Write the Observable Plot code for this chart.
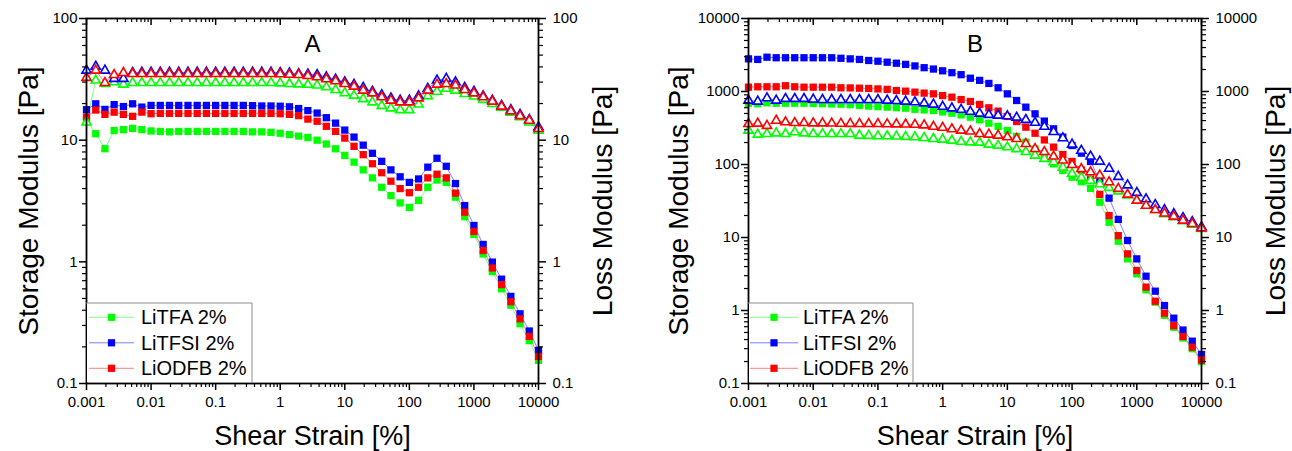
<!DOCTYPE html>
<html>
<head>
<meta charset="utf-8">
<script src="https://cdn.jsdelivr.net/npm/d3@7"></script>
<script src="https://cdn.jsdelivr.net/npm/@observablehq/plot@0.6"></script>
<style>
  html, body { margin: 0; padding: 0; background: #fff; }
  #wrap { display: flex; width: 1292px; height: 451px; overflow: hidden; }
  #wrap svg { display: block; }
</style>
</head>
<body>
<div id="wrap"></div>
<script>
// ---------- DATA ----------
const seriesNames = ["LiTFA 2%", "LiTFSI 2%", "LiODFB 2%"];
const seriesColors = ["#00ff00", "#0000ff", "#ff0000"];

const xMajor = [0.001, 0.01, 0.1, 1, 10, 100, 1000, 10000];
const xMajorLabels = ["0.001", "0.01", "0.1", "1", "10", "100", "1000", "10000"];
const yMajorA = [0.1, 1, 10, 100];
const yMajorLabelsA = ["0.1", "1", "10", "100"];
const yMajorB = [0.1, 1, 10, 100, 1000, 10000];
const yMajorLabelsB = ["0.1", "1", "10", "100", "1000", "10000"];

const xTitle = "Shear Strain [%]";
const yLeftTitle = "Storage Modulus [Pa]";
const yRightTitle = "Loss Modulus [Pa]";

// shear strain [%]
const strain = [0.001,0.00139,0.00193,0.00268,0.00373,0.00518,0.0072,
  0.01,0.0139,0.0193,0.0268,0.0373,0.0518,0.072,
  0.1,0.139,0.193,0.268,0.373,0.518,0.72,
  1,1.39,1.93,2.68,3.73,5.18,7.2,
  10,13.9,19.3,26.8,37.3,51.8,72,
  100,139,193,268,373,518,720,
  1000,1390,1930,2680,3730,5180,7200,10000];

// Panel A - storage modulus (filled squares)
const aStorageLiTFA = [14.5,11.3,8.5,12.0,12.2,12.5,12.2,
  11.9,11.8,11.7,11.8,11.8,11.8,11.8,
  11.8,11.8,11.8,11.8,11.7,11.7,11.6,
  11.4,11.1,10.8,10.5,10.0,9.3,8.5,
  7.5,6.6,5.7,4.9,4.1,3.5,3.05,
  2.8,3.2,4.1,4.7,4.5,3.4,2.35,
  1.68,1.16,0.83,0.6,0.44,0.31,0.225,0.155];
const aStorageLiTFSI = [17.8,19.9,17.9,19.6,18.9,19.9,18.7,
  19.3,19.3,19.3,19.3,19.3,19.3,19.3,
  19.3,19.3,19.3,19.3,19.2,19.1,19.1,
  19.0,18.8,18.2,17.5,16.7,15.3,13.8,
  12.1,10.6,9.1,7.8,6.7,5.7,5.0,
  4.5,4.8,6.0,7.1,6.1,4.4,2.9,
  1.99,1.39,0.995,0.72,0.52,0.374,0.27,0.187];
const aStorageLiODFB = [15.5,17.7,16.3,17.0,16.3,15.7,17.0,
  16.5,16.6,16.6,16.6,16.6,16.6,16.6,
  16.6,16.6,16.6,16.6,16.6,16.6,16.6,
  16.5,16.3,15.9,14.9,14.3,13.0,11.8,
  10.4,8.9,7.6,6.4,5.4,4.6,4.0,
  3.7,4.1,4.9,5.25,4.9,3.67,2.56,
  1.78,1.24,0.89,0.65,0.47,0.34,0.244,0.167];

// Panel A - loss modulus (open triangles)
const aLossLiTFA = [14.0,31.0,29.0,30.0,28.7,29.6,29.6,
  29.6,29.6,29.6,29.6,29.6,29.6,29.6,
  29.6,29.6,29.6,29.6,29.6,29.6,29.6,
  29.4,29.0,28.8,28.6,28.2,27.3,25.9,
  24.4,23.3,21.8,20.5,19.2,18.3,17.7,
  17.7,19.7,23.0,25.1,26.5,25.6,24.0,
  22.9,21.5,19.9,18.5,16.9,15.5,14.0,12.0];
const aLossLiTFSI = [37.4,40.3,37.4,32.0,32.0,35.8,36.0,
  36.0,36.0,36.0,36.0,36.0,36.0,36.0,
  36.0,36.0,36.0,36.0,36.0,36.0,36.0,
  35.8,35.5,35.0,34.8,34.4,33.0,31.6,
  30.0,28.6,27.0,25.1,23.5,22.1,21.2,
  21.2,23.0,26.5,31.0,32.0,30.0,27.0,
  25.1,23.0,21.2,19.2,17.7,16.2,14.7,12.8];
const aLossLiODFB = [32.6,37.4,29.6,34.4,35.7,35.1,35.1,
  35.1,35.1,35.1,35.1,35.1,35.1,35.1,
  35.1,35.1,35.1,35.1,35.1,35.1,35.1,
  34.9,34.6,34.4,33.8,33.0,31.8,30.6,
  29.0,27.6,25.6,24.3,22.6,21.2,20.5,
  20.5,22.1,25.6,28.7,29.0,28.2,25.9,
  24.3,22.6,20.8,18.9,17.3,15.8,14.5,12.4];

// Panel B - storage modulus (filled squares)
const bStorageLiTFA = [690,678,700,690,690,690,690,
  685,680,675,670,660,645,630,
  620,610,600,590,570,560,549,
  525,505,478,445,411,368,332,
  292,243,202,163,129,102,83,
  67,58,47,30.5,16.2,8.9,5.1,
  3.18,1.92,1.30,0.86,0.59,0.42,0.30,0.20];
const bStorageLiTFSI = [2800,2750,2950,2900,2900,2900,2900,
  2900,2900,2900,2850,2800,2750,2660,
  2600,2520,2440,2350,2240,2120,2030,
  1920,1810,1700,1520,1420,1290,1125,
  929,753,610,494,393,308,237,
  182,143,110,60,34.6,17.7,9.1,
  5.1,2.95,1.84,1.17,0.785,0.54,0.38,0.25];
const bStorageLiODFB = [1146,1160,1160,1160,1200,1160,1146,
  1146,1146,1146,1125,1120,1110,1100,
  1085,1070,1032,1010,980,950,929,
  880,836,776,730,664,598,538,
  455,388,325,268,217,173,137,
  110,84,63,39,20,10.6,5.97,
  3.53,2.09,1.34,0.92,0.62,0.44,0.314,0.21];

// Panel B - loss modulus (open triangles)
const bLossLiTFA = [292,258,263,268,263,278,268,
  263,263,263,263,263,250,248,
  245,245,243,240,237,232,225,
  220,213,206,202,200,188,182,
  173,163,149,133,120,108,91,
  75,66,60,54,48,43,37.8,
  32,27.4,24,21,19,16.8,15,13.2];
const bLossLiTFSI = [753,730,810,753,795,795,795,
  778,770,770,770,770,770,770,
  770,753,745,730,715,690,664,
  620,590,565,530,500,480,470,
  460,440,410,375,330,280,230,
  188,155,129,110,88,68,52,
  41,33.5,28,23.8,21,18.6,16.3,13.9];
const bLossLiODFB = [360,365,340,400,380,372,372,
  368,368,366,364,362,361,360,
  360,358,356,355,352,345,330,
  320,305,292,285,263,258,250,
  237,225,192,164,149,129,114,
  99,87,78.5,71,57.5,46.6,38.8,
  32.1,27.4,23.9,21.4,19.4,17.1,15.4,13.4];

// ---------- CHART ----------
const W = 646, H = 451, MT = 18, MB = 68;
const FONT = "'Liberation Sans', Arial, Helvetica, sans-serif";
const minorSteps = [2, 3, 4, 5, 6, 7, 8, 9];
function minorsOf(majors) {
  const out = [];
  for (const m of majors.slice(0, -1)) for (const s of minorSteps) out.push(m * s);
  return out;
}

function makePanel(cfg) {
  const rows = [];
  seriesNames.forEach((name, i) => {
    if (cfg.storage[i].length !== strain.length || cfg.loss[i].length !== strain.length)
      console.error("length mismatch", cfg.letter, name);
    cfg.storage[i].forEach((v, k) => rows.push({x: strain[k], y: v, series: name, kind: "G'"}));
    cfg.loss[i].forEach((v, k) => rows.push({x: strain[k], y: v, series: name, kind: "G''"}));
  });
  const storageRows = rows.filter(r => r.kind === "G'");
  const lossRows = rows.filter(r => r.kind === "G''");
  const innerH = H - MT - MB;
  const xLab = new Map(xMajor.map((d, i) => [d, xMajorLabels[i]]));
  const yLab = new Map(cfg.yMajor.map((d, i) => [d, cfg.yLabels[i]]));
  const xMinor = minorsOf(xMajor);
  const yMinor = minorsOf(cfg.yMajor);

  const svg = Plot.plot({
    width: W, height: H,
    marginLeft: cfg.ml, marginRight: cfg.mr, marginTop: MT, marginBottom: MB,
    x: {type: "log", domain: [0.001, 10000], label: null},
    y: {type: "log", domain: cfg.yDomain, label: null},
    color: {domain: seriesNames, range: seriesColors},
    style: {fontFamily: FONT, background: "white", color: "black", overflow: "visible"},
    marks: [
      Plot.line(rows, {x: "x", y: "y", z: d => d.series + d.kind, stroke: "series", strokeWidth: 1, strokeOpacity: 0.5}),
      Plot.dot(storageRows, {x: "x", y: "y", fill: "series", symbol: "square", r: 4.1}),
      Plot.dot(lossRows, {x: "x", y: "y", stroke: "series", fill: "white", symbol: "triangle", r: 3.4, strokeWidth: 1.6}),
      // bottom axis
      Plot.axisX(xMajor, {anchor: "bottom", tickSize: 7, tickPadding: 6, tickFormat: d => xLab.get(d), fontSize: 15, strokeWidth: 1.5, label: null}),
      Plot.axisX(xMinor, {anchor: "bottom", tickSize: 4, tickFormat: () => "", strokeWidth: 1.2, label: null}),
      // top inward ticks
      Plot.tickX(xMajor, {x: d => d, insetBottom: innerH - 7, stroke: "black", strokeWidth: 1.5}),
      Plot.tickX(xMinor, {x: d => d, insetBottom: innerH - 4, stroke: "black", strokeWidth: 1.2}),
      // left axis
      Plot.axisY(cfg.yMajor, {anchor: "left", tickSize: 7, tickPadding: 2, tickFormat: d => yLab.get(d), fontSize: 15, strokeWidth: 1.5, label: null}),
      Plot.axisY(yMinor, {anchor: "left", tickSize: 4, tickFormat: () => "", strokeWidth: 1.2, label: null}),
      // right axis
      Plot.axisY(cfg.yMajor, {anchor: "right", tickSize: 7, tickPadding: 7, tickFormat: d => yLab.get(d), fontSize: 15, strokeWidth: 1.5, label: null}),
      Plot.axisY(yMinor, {anchor: "right", tickSize: 4, tickFormat: () => "", strokeWidth: 1.2, label: null}),
      Plot.frame({stroke: "black", strokeWidth: 1.8}),
      // titles
      Plot.text([yLeftTitle], {frameAnchor: "left", dx: cfg.leftDx, rotate: -90, fontSize: 28, textAnchor: "middle", lineAnchor: "middle"}),
      Plot.text([yRightTitle], {frameAnchor: "right", dx: cfg.rightDx, rotate: -90, fontSize: 28, textAnchor: "middle", lineAnchor: "middle"}),
      Plot.text([xTitle], {frameAnchor: "bottom", dy: 53, fontSize: 27, textAnchor: "middle", lineAnchor: "middle"}),
      Plot.text([cfg.letter], {frameAnchor: "top", dy: 26, fontSize: 24, textAnchor: "middle", lineAnchor: "middle"})
    ]
  });

  // legend (inside lower-left corner of the frame)
  const g = d3.select(svg).append("g").attr("font-family", FONT).attr("text-anchor", "start");
  const lx = cfg.ml, ly = 303, lw = cfg.legendW, yb = H - MB;
  g.append("rect").attr("x", lx + 1).attr("y", ly).attr("width", lw - 1).attr("height", yb - ly - 1).attr("fill", "white");
  g.append("path").attr("d", `M${lx},${ly}H${lx + lw}V${yb}`).attr("fill", "none").attr("stroke", "#8c8c8c").attr("stroke-width", 1);
  seriesNames.forEach((name, i) => {
    const cy = 317.3 + i * 25.5;
    g.append("line").attr("x1", lx + cfg.lineX0).attr("x2", lx + cfg.lineX1).attr("y1", cy).attr("y2", cy)
      .attr("stroke", seriesColors[i]).attr("stroke-opacity", 0.5).attr("stroke-width", 1);
    const sx = (lx + cfg.lineX0 + lx + cfg.lineX1) / 2;
    g.append("rect").attr("x", sx - 3.6).attr("y", cy - 3.6).attr("width", 7.2).attr("height", 7.2).attr("fill", seriesColors[i]);
    g.append("text").attr("x", lx + cfg.textX).attr("y", cy).attr("dy", "0.35em")
      .attr("text-anchor", "start").attr("font-size", 20).attr("fill", "black").text(name);
  });
  return svg;
}

const wrap = document.getElementById("wrap");
wrap.appendChild(makePanel({
  letter: "A", ml: 86, mr: 108, yDomain: [0.1, 100], yMajor: yMajorA, yLabels: yMajorLabelsA,
  storage: [aStorageLiTFA, aStorageLiTFSI, aStorageLiODFB],
  loss: [aLossLiTFA, aLossLiTFSI, aLossLiODFB],
  leftDx: -57, rightDx: 65, legendW: 166, lineX0: 3, lineX1: 48, textX: 55
}));
wrap.appendChild(makePanel({
  letter: "B", ml: 102, mr: 91, yDomain: [0.1, 10000], yMajor: yMajorB, yLabels: yMajorLabelsB,
  storage: [bStorageLiTFA, bStorageLiTFSI, bStorageLiODFB],
  loss: [bLossLiTFA, bLossLiTFSI, bLossLiODFB],
  leftDx: -69, rightDx: 75, legendW: 165, lineX0: 2, lineX1: 50, textX: 55
}));
</script>
</body>
</html>
